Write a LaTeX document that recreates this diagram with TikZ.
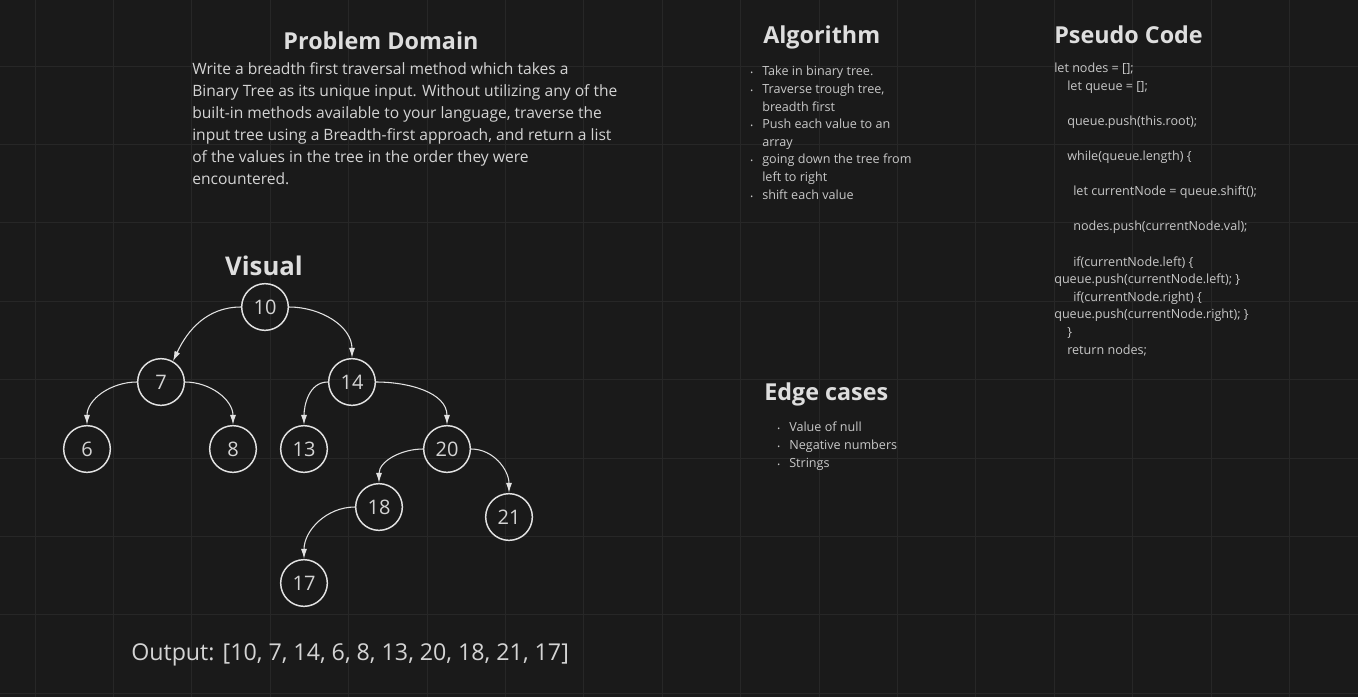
\documentclass[tikz,border=0pt]{standalone}
\usepackage{fontspec}
\setmainfont{Open Sans}
\usetikzlibrary{arrows.meta}
\definecolor{bgdark}{RGB}{26,26,26}
\definecolor{gridgray}{RGB}{39,39,39}
\definecolor{titlegray}{RGB}{222,222,222}
\definecolor{textgray}{RGB}{212,212,212}
\definecolor{smallgray}{RGB}{200,200,200}
\definecolor{linegray}{RGB}{226,226,226}
% titik bullet kecil di depan baris
\newcommand{\bul}{\llap{{\fontsize{5.5}{5.5}\selectfont •}\hspace{6.8pt}}}
\tikzset{
  % judul bagian
  heading/.style={font=\fontsize{17.5}{17.5}\selectfont\bfseries, text=titlegray, inner sep=0pt},
  % teks paragraf (anchor base = baris terakhir)
  para/.style={font=\fontsize{11.7}{16.5}\selectfont, text=textgray, align=left, inner sep=0pt},
  % teks kecil: daftar dan kode
  small/.style={font=\fontsize{9.45}{13.2}\selectfont, text=smallgray, align=left, inner sep=0pt},
  % simpul pohon
  leaf/.style={circle, draw=linegray, line width=1.1pt, minimum size=35pt, inner sep=0pt,
               font=\fontsize{15}{15}\selectfont, text=textgray},
  % anak panah antar simpul
  edge/.style={draw=linegray, line width=0.8pt, -{Latex[length=7.5pt,width=4.5pt]}},
  gridline/.style={draw=gridgray, line width=0.75pt},
}
\begin{document}
\begin{tikzpicture}[x=0.75pt, y=-0.75pt]

\fill[bgdark] (0,0) rectangle (1358,697);
\useasboundingbox (0,0) rectangle (1358,697);
\foreach \gx in {0,...,16} \draw[gridline] ({35+78.4*\gx},0) -- ({35+78.4*\gx},697);
\foreach \gy in {0,...,8} \draw[gridline] (0,{66+78.4*\gy}) -- (1358,{66+78.4*\gy});

% =================== TEKS ===================
\node[heading, anchor=base] (judul) at (381,49) {Problem Domain};
\node[para, anchor=base west] (soal) at (192,184) {Write a breadth first traversal method which takes a\\
  Binary Tree as its unique input. Without utilizing any of the\\
  built-in methods available to your language, traverse the\\
  input tree using a Breadth-first approach, and return a list\\
  of the values in the tree in the order they were\\
  encountered.};

\node[heading, anchor=base west] (algo) at (763,43) {Algorithm};
\node[small, anchor=base west] (langkah) at (762,199) {\bul Take in binary tree.\\
  \bul Traverse trough tree,\\ breadth first\\
  \bul Push each value to an\\ array\\
  \bul going down the tree from\\ left to right\\
  \bul shift each value};

\node[heading, anchor=base west] (pseudo) at (1054,43) {Pseudo Code};
\node[small, anchor=base west] (kode) at (1054,354) {let nodes = [];\\
  \hspace*{9.75pt}let queue = [];\\[13.2pt]
  \hspace*{9.75pt}queue.push(this.root);\\[13.2pt]
  \hspace*{9.75pt}while(queue.length) \{\\[13.2pt]
  \hspace*{14.25pt}let currentNode = queue.shift();\\[13.2pt]
  \hspace*{14.25pt}nodes.push(currentNode.val);\\[13.2pt]
  \hspace*{14.25pt}if(currentNode.left) \{\\
  queue.push(currentNode.left); \}\\
  \hspace*{14.25pt}if(currentNode.right) \{\\
  queue.push(currentNode.right); \}\\
  \hspace*{9.75pt}\}\\
  \hspace*{9.75pt}return nodes;};

\node[heading, anchor=base west] (edge) at (764,400) {Edge cases};
\node[small, anchor=base west] (kasus) at (789,467) {\bul Value of null\\
  \bul Negative numbers\\
  \bul Strings};

\node[heading, font=\fontsize{19.3}{19.3}\selectfont\bfseries, anchor=base] (visual) at (264,275) {Visual};
\node[font=\fontsize{17.4}{17.4}\selectfont, text=textgray, inner sep=0pt, anchor=base west] (hasil) at (131,660)
  {Output: [10, 7, 14, 6, 8, 13, 20, 18, 21, 17]};

% =================== SIMPUL POHON ===================
\node[leaf] (n10) at (265,307) {10};
\node[leaf] (n7) at (161,382) {7};
\node[leaf] (n14) at (352,382) {14};
\node[leaf] (n6) at (87,449) {6};
\node[leaf] (n8) at (233,449) {8};
\node[leaf] (n13) at (304,449) {13};
\node[leaf] (n20) at (447,449) {20};
\node[leaf] (n18) at (379,507) {18};
\node[leaf] (n21) at (509,517) {21};
\node[leaf] (n17) at (304,583) {17};

% =================== RELASI ===================
\draw[edge] (n10.west) to[out=180,in=65] (n7.60);
\draw[edge] (n10.east) to[out=0,in=90] (n14.north);
\draw[edge] (n7.west) to[out=180,in=90] (n6.north);
\draw[edge] (n7.east) to[out=0,in=90] (n8.north);
\draw[edge] (n14.west) to[out=180,in=90] (n13.north);
\draw[edge] (n14.east) to[out=0,in=90] (n20.north);
\draw[edge] (n20.west) to[out=180,in=90] (n18.north);
\draw[edge] (n20.east) to[out=0,in=90] (n21.north);
\draw[edge] (n18.west) to[out=180,in=90] (n17.north);

\end{tikzpicture}
\end{document}
